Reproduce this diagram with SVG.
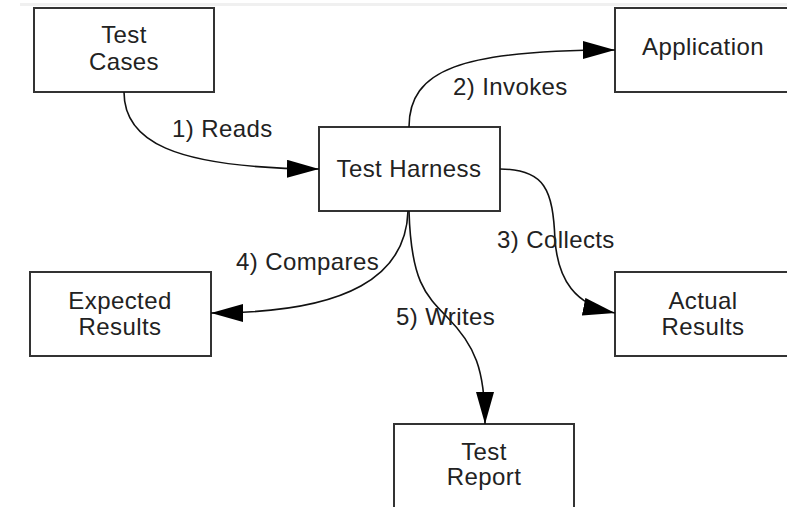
<svg xmlns="http://www.w3.org/2000/svg" width="787" height="507" viewBox="0 0 787 507">
<style>
  .box { fill: #ffffff; stroke: #333333; stroke-width: 2; }
  .lbl { font-family: "Liberation Sans", Arial, sans-serif; font-size: 24px; letter-spacing: 0.4px; fill: #222222; }
  .mid { text-anchor: middle; }
  .edge { fill: none; stroke: #111111; stroke-width: 1.6; marker-end: url(#arrow); }
</style>
<defs>
  <marker id="arrow" markerUnits="userSpaceOnUse" markerWidth="32" markerHeight="18" refX="32" refY="9" orient="auto">
    <path d="M0,0 L32,9 L0,18 z" fill="#000000"/>
  </marker>
</defs>
<rect x="0" y="0" width="787" height="507" fill="#ffffff"/>
<rect x="20" y="3" width="767" height="3" fill="#f0f0f0"/>

<g id="test-cases">
  <rect class="box" x="34" y="8" width="180" height="84"/>
  <text class="lbl mid" x="124" y="43">Test</text>
  <text class="lbl mid" x="124" y="70">Cases</text>
</g>
<g id="test-harness">
  <rect class="box" x="319" y="127" width="181" height="84"/>
  <text class="lbl mid" x="409" y="177">Test Harness</text>
</g>
<g id="application">
  <rect class="box" x="615" y="8" width="176" height="84"/>
  <text class="lbl mid" x="703" y="55">Application</text>
</g>
<g id="expected-results">
  <rect class="box" x="30" y="272" width="181" height="84"/>
  <text class="lbl mid" x="120" y="309">Expected</text>
  <text class="lbl mid" x="120" y="335">Results</text>
</g>
<g id="actual-results">
  <rect class="box" x="615" y="272" width="176" height="84"/>
  <text class="lbl mid" x="703" y="309">Actual</text>
  <text class="lbl mid" x="703" y="335">Results</text>
</g>
<g id="test-report">
  <rect class="box" x="394" y="424" width="180" height="90"/>
  <text class="lbl mid" x="484" y="460">Test</text>
  <text class="lbl mid" x="484" y="485">Report</text>
</g>

<g id="connectors">
  <path class="edge" d="M124,92 C124,140 170,168 319,169"/>
  <path class="edge" d="M409,127 C409,70 460,50 615,50"/>
  <path class="edge" d="M500,169 C545,169 553,190 555,240 C558,280 575,305 615,313"/>
  <path class="edge" d="M408,211 C406,275 350,313 211,313"/>
  <path class="edge" d="M409,211 C411,280 425,295 447,317 C475,345 485,370 485,424"/>
  <text class="lbl" x="172" y="137">1) Reads</text>
  <text class="lbl" x="453" y="95">2) Invokes</text>
  <text class="lbl" x="497" y="248">3) Collects</text>
  <text class="lbl" x="236" y="270">4) Compares</text>
  <text class="lbl" x="396" y="325">5) Writes</text>
</g>
</svg>
